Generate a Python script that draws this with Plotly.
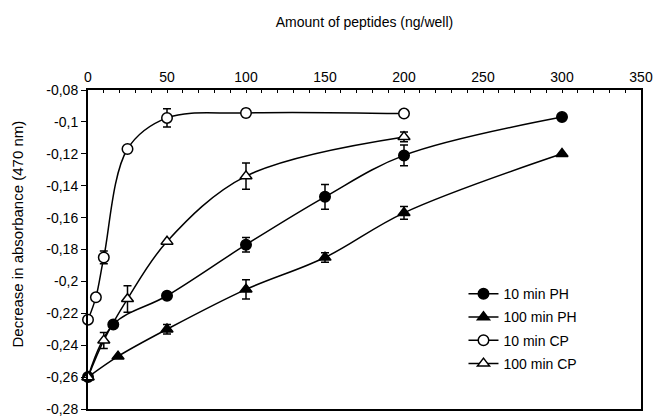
import plotly.graph_objects as go

# Amount of peptides (ng/well) and decrease in absorbance at 470 nm
ph10_x = [0, 16, 50, 100, 150, 200, 300]
ph10_y = [-0.260, -0.227, -0.209, -0.177, -0.147, -0.121, -0.097]
ph10_err = [0, 0, 0.002, 0.0045, 0.0078, 0.0065, 0]

ph100_x = [0, 19, 50, 100, 150, 200, 300]
ph100_y = [-0.260, -0.247, -0.230, -0.205, -0.185, -0.157, -0.120]
ph100_err = [0, 0, 0.003, 0.006, 0.003, 0.004, 0]

cp10_x = [0, 5, 10, 25, 50, 100, 200]
cp10_y = [-0.224, -0.210, -0.185, -0.117, -0.0975, -0.0944, -0.0948]
cp10_err = [0, 0, 0.004, 0, 0.0057, 0.0024, 0]

cp100_x = [0, 10, 25, 50, 100, 200]
cp100_y = [-0.260, -0.237, -0.211, -0.175, -0.134, -0.1094]
cp100_err = [0, 0.005, 0.0083, 0, 0.0083, 0.003]

x_ticks = [0, 50, 100, 150, 200, 250, 300, 350]
y_ticks = [-0.28, -0.26, -0.24, -0.22, -0.20, -0.18, -0.16, -0.14, -0.12, -0.10, -0.08]
y_ticktext = ["-0,28", "-0,26", "-0,24", "-0,22", "-0,2", "-0,18", "-0,16",
              "-0,14", "-0,12", "-0,1", "-0,08"]

FONT = "Arial, Liberation Sans, sans-serif"
FS = 14

series = [
    ("10 min PH", ph10_x, ph10_y, ph10_err, "circle", "black"),
    ("100 min PH", ph100_x, ph100_y, ph100_err, "triangle-up", "black"),
    ("10 min CP", cp10_x, cp10_y, cp10_err, "circle", "white"),
    ("100 min CP", cp100_x, cp100_y, cp100_err, "triangle-up", "white"),
]

fig = go.Figure()
for name, xs, ys, errs, symbol, fill in series:
    fig.add_trace(go.Scatter(
        x=xs, y=ys, name=name, legendgroup=name,
        mode="lines+markers",
        line=dict(color="black", width=1.5, shape="spline", smoothing=1),
        marker=dict(symbol=symbol, size=10.5, color=fill,
                    line=dict(color="black", width=1.5)),
        error_y=dict(type="data", array=errs, visible=True,
                     color="black", thickness=1.5, width=4),
        cliponaxis=False,
    ))

fig.update_layout(
    width=653, height=418,
    margin=dict(l=88, r=12, t=90, b=9, autoexpand=False),
    paper_bgcolor="white", plot_bgcolor="white",
    font=dict(family=FONT, size=FS, color="black"),
    showlegend=True,
    legend=dict(x=0.679, y=0.41, xanchor="left", yanchor="top",
                bgcolor="rgba(0,0,0,0)", borderwidth=0,
                tracegroupgap=2, traceorder="grouped",
                font=dict(family=FONT, size=FS, color="black")),
)

fig.update_xaxes(
    side="top", range=[0, 350], automargin=False,
    tickmode="array", tickvals=x_ticks, ticklabeloverflow="allow",
    ticks="inside", ticklen=3, tickwidth=1, tickcolor="black",
    minor=dict(ticks="inside", dtick=10, ticklen=3, tickwidth=1, tickcolor="black"),
    showline=True, linecolor="black", linewidth=2, mirror=True,
    showgrid=False, zeroline=False,
    title=dict(text="Amount of peptides (ng/well)", standoff=39,
               font=dict(family=FONT, size=FS, color="black")),
)

fig.update_yaxes(
    range=[-0.28, -0.08], automargin=False,
    tickmode="array", tickvals=y_ticks, ticktext=y_ticktext,
    ticklabeloverflow="allow",
    ticks="outside", ticklen=5, tickwidth=1, tickcolor="black",
    showline=True, linecolor="black", linewidth=2, mirror=True,
    showgrid=False, zeroline=False,
)

fig.add_annotation(
    text="Decrease in absorbance (470 nm)", textangle=-90,
    xref="paper", yref="paper", x=-0.1266, y=0.55,
    xanchor="center", yanchor="middle", showarrow=False,
    font=dict(family=FONT, size=15, color="black"),
)

fig.write_html("out.html")
